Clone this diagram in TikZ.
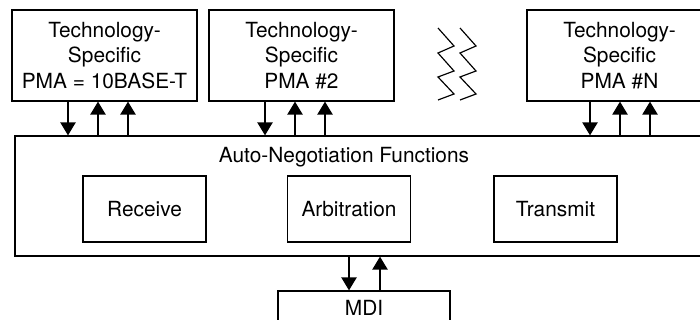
\documentclass[tikz,border=0pt]{standalone}
\usepackage{fontspec}
\setmainfont{TeX Gyre Heros}
\usetikzlibrary{arrows.meta,positioning}
\definecolor{ink}{HTML}{000000}
\tikzset{
  flow/.style={-{Triangle[width=13pt,length=11pt]},line width=1.1pt,draw=ink},
  box/.style={draw=ink,line width=1.1pt,align=center,inner sep=0pt,
              font=\fontsize{17.8}{22}\selectfont},
  pma/.style={box,minimum width=55.5mm,minimum height=27.3mm},
  func/.style={box,minimum width=36.9mm,minimum height=19.8mm},
  zig/.style={draw=ink,line width=1pt},
}

\begin{document}
\begin{tikzpicture}[x=0.3mm,y=-0.3mm]
    \path[use as bounding box,clip] (0,0) rectangle (700,320);
    % physical media attachments
    \node[pma] (pma1) at (104.5,55.5) {Technology-\\Specific\\PMA = 10BASE-T};
    \node[pma] (pma2) at (301.5,55.5) {Technology-\\Specific\\PMA \#2};
    \node[pma] (pman) at (619.5,55.5) {Technology-\\Specific\\PMA \#N};
    % auto-negotiation block
    \node[box,minimum width=208.5mm,minimum height=36mm] (anf) at (362.5,196) {};
    \node[font=\fontsize{17.8}{22}\selectfont] (title) at (344,157) {Auto-Negotiation Functions};
    \node[func] (rx) at (144.5,209) {Receive};
    \node[func] (arb) at (349,209) {Arbitration};
    \node[func] (tx) at (555.5,209) {Transmit};
    \node[box,minimum width=51.6mm,minimum height=10.2mm] (mdi) at (364,308) {MDI};
    % links
    \foreach \p/\x in {pma1/68,pma2/265,pman/590}{
      \draw[flow] (\p.south -| \x,0) -- (anf.north -| \x,0);
      \draw[flow] (anf.north -| \x+30,0) -- (\p.south -| \x+30,0);
      \draw[flow] (anf.north -| \x+60,0) -- (\p.south -| \x+60,0);
    }
    \draw[flow] (anf.south -| 349,0) -- (mdi.north -| 349,0);
    \draw[flow] (mdi.north -| 380,0) -- (anf.south -| 380,0);
    % break marks
    \foreach \dx in {0,22}
      \draw[zig] (438+\dx,28) -- (454+\dx,46) -- (438+\dx,53) -- (454+\dx,71)
        -- (438+\dx,77) -- (454+\dx,94) -- (438+\dx,100);
  \end{tikzpicture}
\end{document}
